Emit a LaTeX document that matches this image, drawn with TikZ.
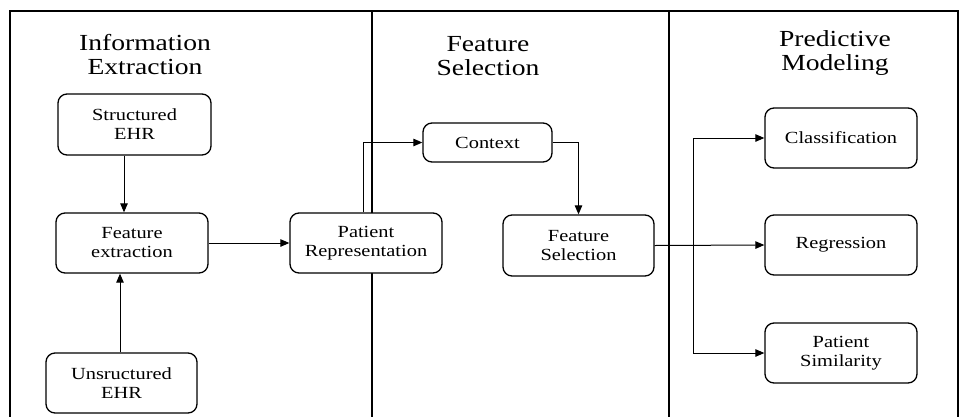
\documentclass[tikz,border=0pt]{standalone}
\usepackage{fontspec}
\setmainfont{Liberation Serif}[FakeStretch=1.2]
\usetikzlibrary{arrows.meta}
\begin{document}
\begin{tikzpicture}[x=1pt,y=-1pt,
  box/.style={draw, fill=white, line width=1.3pt, rounded corners=9pt, align=center,
    font=\fontsize{17}{19}\selectfont, inner sep=0pt},
  ttl/.style={align=center, font=\fontsize{23}{24}\selectfont},
  arr/.style={-{Triangle[length=9pt,width=7.5pt]}, line width=1pt},
  frame/.style={line width=1.4pt},
  divider/.style={line width=2.4pt}]
\useasboundingbox (0,0) rectangle (962,416);
\clip (0,0) rectangle (962,416);
% frame
\draw[frame] (10,425) -- (10,11) -- (958,11) -- (958,425);
\draw[divider] (372,11) -- (372,425);
\draw[divider] (669,11) -- (669,425);
% titles
\node[ttl] (t1) at (145,55) {Information\\Extraction};
\node[ttl] (t2) at (488,56) {Feature\\Selection};
\node[ttl] (t3) at (835,53) {Predictive\\Modeling};
% helper x positions
\coordinate (xa) at (124,0);
\coordinate (xb) at (120,0);
\coordinate (xc) at (363,0);
\coordinate (xd) at (693,0);
% boxes
\node[box, minimum width=153pt, minimum height=61pt] (s) at (134.5,124.5) {Structured\\EHR};
\node[box, minimum width=152pt, minimum height=60pt] (fe) at (132,243) {Feature\\extraction};
\node[box, minimum width=151pt, minimum height=60pt] (u) at (121.5,383) {Unsructured\\EHR};
\node[box, minimum width=152pt, minimum height=60pt] (pr) at (366,243) {Patient\\Representation};
\node[box, minimum width=129pt, minimum height=39pt] (ctx) at (487.5,142.5) {Context};
\node[box, minimum width=151pt, minimum height=61pt] (fs) at (578.5,245.5) {Feature\\Selection};
\node[box, minimum width=152pt, minimum height=60pt] (cls) at (841,138) {Classification};
\node[box, minimum width=152pt, minimum height=60pt] (reg) at (841,245) {Regression};
\node[box, minimum width=152pt, minimum height=60pt] (ps) at (841,353) {Patient\\Similarity};
% connectors
\draw[arr] (s.south -| xa) -- (fe.north -| xa);
\draw[arr] (u.north -| xb) -- (fe.south -| xb);
\draw[arr] (fe.east) -- (pr.west);
\draw[arr] (pr.north -| xc) |- (ctx.west);
\draw[arr] (ctx.east) -| (fs.north);
\draw[arr] (fs.east) -- (reg.west);
\coordinate (br) at (xd |- reg.west);
\draw[arr] (br) |- (cls.west);
\draw[arr] (br) |- (ps.west);
\end{tikzpicture}
\end{document}
